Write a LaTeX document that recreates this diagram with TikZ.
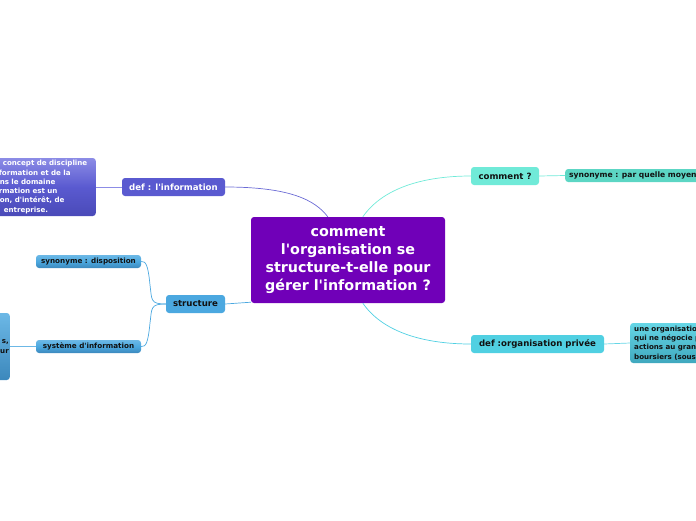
\documentclass[tikz,border=0pt]{standalone}
\usepackage{fontspec}
\setmainfont{DejaVu Sans}
\usetikzlibrary{calc}
\newcommand{\qs}{\textquotesingle}
\definecolor{cpurple}{HTML}{7000B8}
\definecolor{cinfo}{HTML}{5A5AD0}
\definecolor{cinfoL}{HTML}{8C8CE6}
\definecolor{cinfoD}{HTML}{4A4AB8}
\definecolor{cturq}{HTML}{70EAD8}
\definecolor{cturqD}{HTML}{5CD6C4}
\definecolor{ccyan}{HTML}{50D0E2}
\definecolor{ccyanL}{HTML}{66D6E6}
\definecolor{ccyanD}{HTML}{3FA8BE}
\definecolor{cblue}{HTML}{4BA8E0}
\definecolor{cblueL}{HTML}{6CB8E6}
\definecolor{cblueD}{HTML}{3C88BC}
\definecolor{ctext}{HTML}{111111}
\tikzset{
  box/.style={rounded corners=3pt, inner sep=2pt, align=center, font=\bfseries},
  midfont/.style={font=\fontsize{8.6}{10}\selectfont\bfseries},
  smallfont/.style={font=\fontsize{7.2}{8}\selectfont\bfseries},
  link/.style={line width=0.7pt},
}
\begin{document}
\begin{tikzpicture}[x=1pt,y=-1pt]
\useasboundingbox (0,0) rectangle (696,520);
\clip (0,0) rectangle (696,520);
% central
\node[box, fill=cpurple, text=white, minimum width=194pt, minimum height=86pt,
  font=\fontsize{14.3}{18}\selectfont\bfseries] (center) at (348,260)
  {comment\\l\qs organisation se\\structure-t-elle pour\\gérer l\qs information ?};
\coordinate (cA) at ($(center.north west)+(77,0)$);
\coordinate (cB) at ($(center.north west)+(112,0)$);
\coordinate (cC) at ($(center.south west)+(112,0)$);
\coordinate (cD) at ($(center.south west)+(0,-1)$);
% def info
\node[box, fill=cinfo, text=white, minimum width=103pt, minimum height=18pt, midfont]
  (info) at (173.5,187) {def : l\qs information};
\node[box, top color=cinfoL, bottom color=cinfoD, middle color=cinfo, text=white,
  minimum height=58pt, anchor=east, align=left, inner xsep=2.5pt,
  text width=131pt, font=\fontsize{7.1}{9.3}\selectfont\bfseries] (infobox) at (96,187)
  {\hspace*{40.5pt}concept de discipline\\\hspace*{36.5pt}formation et de la\\\hspace*{37.5pt}ns le domaine\\\hspace*{36.5pt}rmation est un\\\hspace*{37.5pt}on, d\qs intérêt, de\\\hspace*{41.5pt}entreprise.};
% comment
\node[box, fill=cturq, text=ctext, minimum width=68pt, minimum height=18pt, midfont]
  (comment) at (505,176) {comment ?};
\node[box, fill=cturqD, text=ctext, minimum height=13pt, anchor=west, inner xsep=4pt,
  font=\fontsize{7.6}{8}\selectfont\bfseries] (syn1) at (565,175.5) {synonyme : par quelle moyen ?};
% def org
\node[box, fill=ccyan, text=ctext, minimum width=133pt, minimum height=18pt, midfont]
  (org) at (537.5,344) {def :organisation privée};
\node[box, top color=ccyanL, bottom color=ccyanD, text=ctext, minimum height=40pt,
  anchor=west, align=left, text width=110pt, inner xsep=4pt,
  font=\fontsize{7.1}{9.3}\selectfont\bfseries] (orgbox) at (630,343)
  {une organisation\\qui ne négocie pas\\actions au grand\\boursiers (sous};
% structure
\node[box, fill=cblue, text=ctext, minimum width=59pt, minimum height=18pt, midfont]
  (struct) at (195.5,304) {structure};
\node[box, top color=cblueL, bottom color=cblueD, middle color=cblue, text=ctext,
  minimum width=105pt, minimum height=13pt, smallfont] (syn2) at (88.5,261.5) {synonyme : disposition};
\node[box, top color=cblueL, bottom color=cblueD, middle color=cblue, text=ctext,
  minimum width=105pt, minimum height=13pt, smallfont] (sys) at (88.5,346.5) {système d\qs information};
\node[box, top color=cblueL, bottom color=cblueD, text=ctext, minimum width=80pt,
  minimum height=67pt, anchor=east, align=right, text width=78pt, inner xsep=1pt,
  font=\fontsize{7.1}{9.3}\selectfont\bfseries] (sysbox) at (10,346.5)
  {s,\\ur\\[34pt]};
% connectors
\draw[link, color=cinfo!90] (info.east) .. controls (290,187) and (315,200) .. (cA);
\draw[link, color=cinfoL] (infobox.east) -- (info.west);
\draw[link, color=cturq] (cB) .. controls (385,185) and (430,176) .. (comment.west);
\draw[link, color=cturq] (comment.east) -- (syn1.west);
\draw[link, color=ccyan] (cC) .. controls (385,335) and (430,344) .. (org.west);
\draw[link, color=ccyanL] (org.east) -- (orgbox.west);
\draw[link, color=cblue] (struct.east) -- (cD);
\draw[link, color=cblue] (struct.west) .. controls (150,304) and (152,300) .. (150,285) .. controls (148,265) and (146,261) .. (syn2.east);
\draw[link, color=cblue] (struct.west) .. controls (150,304) and (152,308) .. (150,323) .. controls (148,343) and (146,347) .. (sys.east);
\draw[link, color=cblueL] (sysbox.east) -- (sys.west);
\end{tikzpicture}
\end{document}
